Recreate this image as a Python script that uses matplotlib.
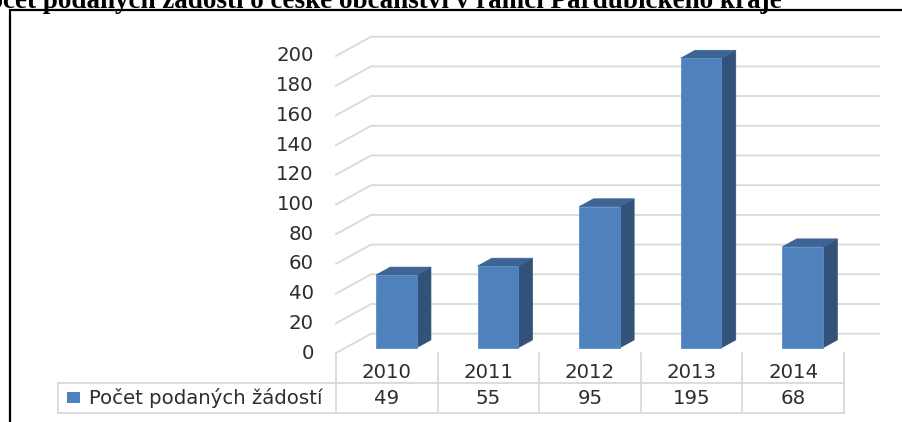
import numpy as np
import matplotlib
matplotlib.use("Agg")
import matplotlib.pyplot as plt
from matplotlib.patches import Polygon, Rectangle

# data
years = ["2010", "2011", "2012", "2013", "2014"]
counts = [49, 55, 95, 195, 68]
series_name = "Počet podaných žádostí"
title = "Počet podaných žádostí o české občanství v rámci Pardubického kraje"
yticks = list(range(0, 201, 20))

# colours
c_front = "#4F81BD"
c_side = "#32527A"
c_top = "#3D6494"
c_grid = "#D9D9D9"
c_text = "#2E2E2E"
fs = 14.2

# pseudo 3d: depth offset in data units (x in categories, y in values)
DX = 0.345
DY = 13.0
D0, D1 = 0.27, 0.68
W = 0.4

def p(x, y, d):
    return (x + d * DX, y + d * DY)

fig = plt.figure(figsize=(9.02, 4.22), dpi=100)
ax = fig.add_axes([0, 0, 1, 1])
ax.set_xlim(-3.807, 5.071)
ax.set_ylim(-46.46, 237.7)
ax.axis("off")

n = len(years)
x0, x1 = -0.5, n - 0.5

# back wall gridlines with floor diagonal
for v in yticks:
    pts = [p(x0, v, 0), p(x0, v, 1), p(x1, v, 1)]
    ax.plot([q[0] for q in pts], [q[1] for q in pts], color=c_grid, lw=1.3,
            solid_joinstyle="miter", zorder=1)
    ax.text(x0 - 0.22, v, str(v), ha="right", va="center", fontsize=fs,
            color=c_text, family="DejaVu Sans")

# bars
for i, val in enumerate(counts):
    l, r = i - W / 2, i + W / 2
    front = [p(l, 0, D0), p(r, 0, D0), p(r, val, D0), p(l, val, D0)]
    side = [p(r, 0, D0), p(r, 0, D1), p(r, val, D1), p(r, val, D0)]
    top = [p(l, val, D0), p(r, val, D0), p(r, val, D1), p(l, val, D1)]
    ax.add_patch(Polygon(side, closed=True, fc=c_side, ec=c_side, lw=0.5, zorder=3))
    ax.add_patch(Polygon(top, closed=True, fc=c_top, ec=c_top, lw=0.5, zorder=3))
    ax.add_patch(Polygon(front, closed=True, fc=c_front, ec="#5B8CC6", lw=0.6, zorder=4))

# data table
row1, row2 = -20.2, -40.4
left_box = -3.236
for k in range(n + 1):
    ax.plot([k - 0.5, k - 0.5], [0, row2], color=c_grid, lw=1.3, zorder=1)
ax.plot([left_box, x1], [row1, row1], color=c_grid, lw=1.3, zorder=1)
ax.plot([left_box, x1], [row2, row2], color=c_grid, lw=1.3, zorder=1)
ax.plot([left_box, left_box], [row1, row2], color=c_grid, lw=1.3, zorder=1)

for i in range(n):
    ax.text(i, -12.8, years[i], ha="center", va="center", fontsize=fs,
            color=c_text, family="DejaVu Sans")
    ax.text(i, -30.3, str(counts[i]), ha="center", va="center", fontsize=fs,
            color=c_text, family="DejaVu Sans")

ax.add_patch(Rectangle((-3.148, -33.7), 0.128, 7.4, fc=c_front, ec="none"))
ax.text(-2.931, -30.3, series_name, ha="left", va="center", fontsize=fs,
        color=c_text, family="DejaVu Sans")

# outer frame and title (cropped at the top-left like the source)
fig.add_artist(Rectangle((10 / 902, -0.1), 2, 1 - 10 / 422 + 0.1,
                         transform=fig.transFigure, fill=False, ec="black", lw=1.6))
fig.text(782 / 902, 1 - 8 / 422, title, ha="right", va="baseline",
         fontsize=19.5, fontweight="bold", family="Liberation Serif", color="black")

fig.savefig("out.png", dpi=100)
